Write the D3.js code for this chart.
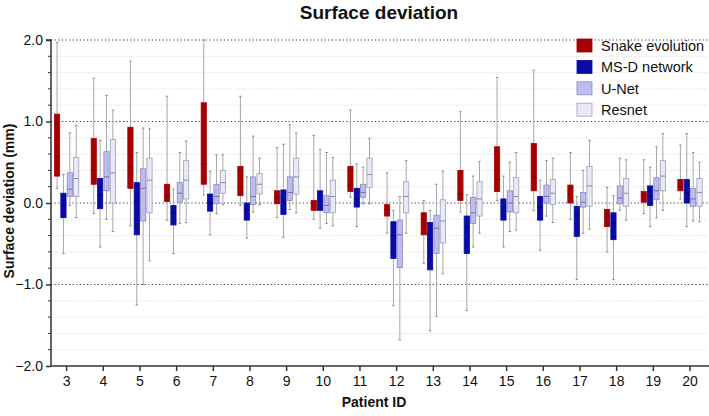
<!DOCTYPE html>
<html><head><meta charset="utf-8">
<script src="https://cdn.jsdelivr.net/npm/d3@7"></script>
<style>body{margin:0;background:#fff}svg{display:block;font-family:"Liberation Sans",Arial,sans-serif}</style>
</head><body><svg id="c" width="709" height="416"></svg>
<script>
const patients = [3,4,5,6,7,8,9,10,11,12,13,14,15,16,17,18,19,20];
const seriesNames = ["Snake evolution","MS-D network","U-Net","Resnet"];
// [min, q1, median, q3, max] per patient
const snakeEvolution = [
 [0.18,0.33,0.57,1.09,1.97],[-0.13,0.23,0.41,0.79,1.53],[-0.28,0.18,0.44,0.93,1.74],[-0.21,0.02,0.08,0.23,1.31],
 [0.10,0.23,0.48,1.23,2.0],[-0.03,0.09,0.19,0.45,1.31],[-0.18,-0.01,0.07,0.15,0.68],[-0.20,-0.09,-0.03,0.03,0.83],
 [0.07,0.14,0.22,0.45,1.14],[-0.37,-0.16,-0.08,-0.02,0.37],[-0.74,-0.39,-0.20,-0.12,0.03],[-0.11,0.03,0.11,0.40,1.12],
 [0.03,0.14,0.29,0.69,1.54],[-0.09,0.15,0.32,0.73,1.63],[-0.20,0.00,0.11,0.22,0.62],[-0.60,-0.29,-0.16,-0.08,0.19],
 [-0.13,0.01,0.10,0.14,0.53],[0.05,0.15,0.20,0.29,0.71]];
const msdNetwork = [
 [-0.62,-0.18,-0.03,0.12,0.35],[-0.54,-0.07,0.10,0.30,0.77],[-1.25,-0.39,0.02,0.25,0.62],[-0.62,-0.27,-0.12,-0.03,0.17],
 [-0.39,-0.10,0.00,0.11,0.39],[-0.43,-0.21,-0.08,0.00,0.32],[-0.42,-0.14,0.02,0.16,0.72],[-0.31,-0.09,0.02,0.15,0.66],
 [-0.29,-0.05,0.05,0.18,0.48],[-1.26,-0.68,-0.40,-0.23,-0.09],[-1.57,-0.82,-0.45,-0.24,-0.09],[-1.32,-0.62,-0.30,-0.16,0.10],
 [-0.54,-0.21,-0.05,0.05,0.33],[-0.58,-0.21,-0.05,0.08,0.28],[-0.94,-0.41,-0.15,-0.04,0.08],[-0.94,-0.45,-0.25,-0.12,0.09],
 [-0.29,-0.03,0.08,0.21,0.44],[-0.29,0.00,0.12,0.29,0.85]];
const uNet = [
 [-0.03,0.08,0.17,0.37,0.86],[-0.20,0.15,0.32,0.63,1.32],[-1.00,-0.22,0.18,0.42,0.92],[-0.25,0.01,0.12,0.25,0.62],
 [-0.13,-0.01,0.08,0.23,0.59],[-0.11,-0.02,0.08,0.32,0.82],[-0.08,0.03,0.13,0.32,0.96],[-0.25,-0.12,-0.03,0.09,0.62],
 [-0.01,0.07,0.13,0.23,0.44],[-1.68,-0.79,-0.39,-0.21,0.08],[-1.39,-0.62,-0.31,-0.15,0.23],[-0.54,-0.25,-0.12,0.07,0.33],
 [-0.35,-0.11,0.00,0.15,0.50],[-0.16,0.00,0.08,0.22,0.52],[-0.37,-0.05,0.01,0.13,0.40],[-0.09,-0.01,0.06,0.21,0.55],
 [-0.18,0.04,0.15,0.31,0.69],[-0.22,-0.04,0.05,0.18,0.62]];
const resnet = [
 [-0.18,0.08,0.30,0.56,0.95],[-0.35,0.00,0.37,0.78,1.14],[-0.71,-0.12,0.28,0.55,0.91],[-0.24,0.05,0.28,0.52,0.76],
 [-0.02,0.12,0.25,0.40,0.59],[-0.02,0.11,0.23,0.36,0.55],[-0.12,0.11,0.32,0.55,0.86],[-0.28,-0.12,0.08,0.28,0.56],
 [-0.01,0.19,0.35,0.55,0.79],[-0.37,-0.12,0.08,0.26,0.52],[-0.87,-0.49,-0.22,0.04,0.39],[-0.37,-0.16,0.05,0.26,0.51],
 [-0.33,-0.12,0.08,0.31,0.62],[-0.24,-0.02,0.12,0.29,0.55],[-0.32,-0.04,0.21,0.45,0.77],[-0.21,-0.04,0.12,0.30,0.53],
 [-0.09,0.15,0.33,0.52,0.85],[-0.23,-0.04,0.13,0.30,0.50]];
const seriesData = [snakeEvolution, msdNetwork, uNet, resnet];
const yTicks = [-2,-1,0,1,2];
const fills = ["#a50000","#0a0aa5","#bcbcf2","#e8e8f8"];
const strokes = ["#a50000","#0a0aa5","#8a8ab8","#a0a0b4"];
const medianColors = ["#700000","#050570","#7070a0","#8a8aa0"];

(function(){
const svg = d3.select("#c");
const mLeft = 51, mTop = 40, mBottom = 366, mRight = 708;
const x = d3.scaleBand().domain(patients).range([48.3, 708.3]).padding(0);
const sub = d3.scaleBand().domain(seriesNames).range([-13.3, 13.3]).padding(0.18);
const y = d3.scaleLinear().domain([-2,2]).range([mBottom, mTop]);
const minor = d3.range(-1.8, 2.0, 0.2).map(v => +v.toFixed(1)).filter(v => Math.abs(v - Math.round(v)) > 1e-6);

// minor grid
svg.append("g").selectAll("line").data(minor).join("line")
  .attr("x1", mLeft).attr("x2", mRight).attr("y1", d => y(d)).attr("y2", d => y(d))
  .attr("stroke", "#cfcfcf").attr("stroke-width", 0.8).attr("stroke-dasharray", "1,1.5");
// major grid
svg.append("g").selectAll("line").data(yTicks.filter(v => v > -2)).join("line")
  .attr("x1", mLeft).attr("x2", mRight).attr("y1", d => y(d)).attr("y2", d => y(d))
  .attr("stroke", "#333").attr("stroke-width", 1.2).attr("stroke-dasharray", "1.2,2.4");

// boxes
const g = svg.append("g");
seriesNames.forEach((s, si) => {
  const data = seriesData[si].map((v, i) => ({p: patients[i], v}));
  const cx = d => x(d.p) + x.bandwidth()/2 + sub(s) + sub.bandwidth()/2;
  const w = sub.bandwidth();
  const gs = g.append("g");
  gs.selectAll("line.w").data(data).join("line").attr("class","w")
    .attr("x1", cx).attr("x2", cx).attr("y1", d => y(d.v[0])).attr("y2", d => y(d.v[4]))
    .attr("stroke", "#a8a8a8").attr("stroke-width", 1);
  gs.selectAll("line.c1").data(data).join("line").attr("class","c1")
    .attr("x1", d => cx(d)-1.2).attr("x2", d => cx(d)+1.2).attr("y1", d => y(d.v[0])).attr("y2", d => y(d.v[0]))
    .attr("stroke", "#888").attr("stroke-width", 1);
  gs.selectAll("line.c2").data(data).join("line").attr("class","c2")
    .attr("x1", d => cx(d)-1.2).attr("x2", d => cx(d)+1.2).attr("y1", d => y(d.v[4])).attr("y2", d => y(d.v[4]))
    .attr("stroke", "#888").attr("stroke-width", 1);
  gs.selectAll("rect").data(data).join("rect")
    .attr("x", d => cx(d) - w/2).attr("width", w)
    .attr("y", d => y(d.v[3])).attr("height", d => y(d.v[1]) - y(d.v[3]))
    .attr("fill", fills[si]).attr("stroke", strokes[si]).attr("stroke-width", 0.8);
  gs.selectAll("line.m").data(data).join("line").attr("class","m")
    .attr("x1", d => cx(d) - w/2).attr("x2", d => cx(d) + w/2).attr("y1", d => y(d.v[2])).attr("y2", d => y(d.v[2]))
    .attr("stroke", medianColors[si]).attr("stroke-width", 1);
});

// y axis
const yAxis = svg.append("g").attr("transform", `translate(${mLeft},0)`)
  .call(d3.axisLeft(y).tickValues(yTicks).tickFormat(d3.format(".1f")).tickSize(5).tickPadding(3));
yAxis.select(".domain").attr("stroke", "#333").attr("stroke-width", 1.5).attr("d", `M-5,${mTop}H0V${mBottom}`);
yAxis.selectAll(".tick line").attr("stroke", "#333").attr("stroke-width", 1.5);
yAxis.selectAll("text").attr("font-size", 14).attr("fill", "#111").attr("font-family", "Liberation Sans, Arial");
svg.append("g").selectAll("line").data(minor)
  .join("line").attr("x1", mLeft - 3).attr("x2", mLeft).attr("y1", d => y(d)).attr("y2", d => y(d))
  .attr("stroke", "#333").attr("stroke-width", 1);

// x axis
const xAxis = svg.append("g").attr("transform", `translate(0,${mBottom})`)
  .call(d3.axisBottom(x).tickSize(5).tickPadding(5));
xAxis.select(".domain").attr("stroke", "#333").attr("stroke-width", 1.5).attr("d", `M${mLeft},0H${mRight+1}`);
xAxis.selectAll(".tick line").attr("stroke", "#333").attr("stroke-width", 1.5);
xAxis.selectAll("text").attr("font-size", 14).attr("fill", "#111").attr("font-family", "Liberation Sans, Arial");

// titles
svg.append("text").attr("x", 379).attr("y", 19).attr("text-anchor", "middle")
  .attr("font-size", 19).attr("font-weight", "bold").attr("fill", "#111").text("Surface deviation");
svg.append("text").attr("x", 374).attr("y", 407).attr("text-anchor", "middle")
  .attr("font-size", 14).attr("font-weight", "bold").attr("fill", "#111").text("Patient ID");
svg.append("text").attr("transform", "translate(13.5,201) rotate(-90)").attr("text-anchor", "middle")
  .attr("font-size", 14).attr("font-weight", "bold").attr("fill", "#111").text("Surface deviation (mm)");

// legend
const lg = svg.append("g").selectAll("g").data(seriesNames).join("g")
  .attr("transform", (d, i) => `translate(577,${39 + i * 21.4})`);
lg.append("rect").attr("width", 15).attr("height", 13)
  .attr("fill", (d, i) => fills[i]).attr("stroke", (d, i) => strokes[i]).attr("stroke-width", 0.8);
lg.append("text").attr("x", 24).attr("y", 12).attr("font-size", 14.5).attr("fill", "#111").text(d => d);
})();
</script></body></html>
